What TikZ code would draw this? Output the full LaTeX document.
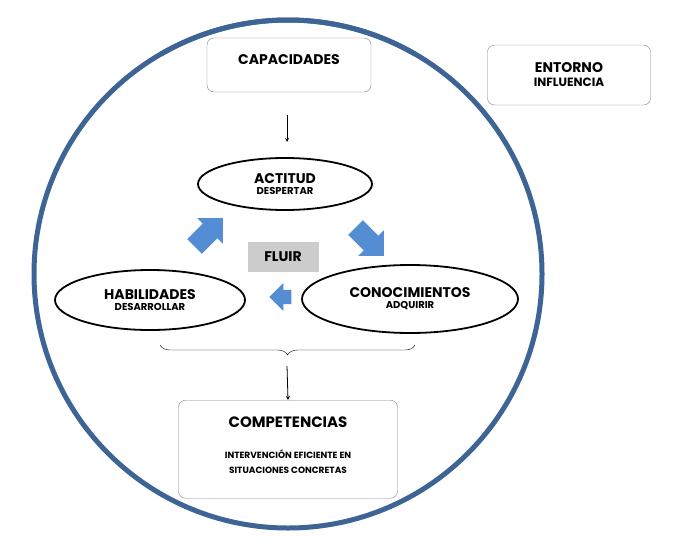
\documentclass[tikz,border=0pt]{standalone}
\usepackage{fontspec}
\setmainfont{Poppins}
\usetikzlibrary{shapes.arrows,shapes.geometric,decorations.pathreplacing}
\definecolor{ringblue}{RGB}{62,100,150}
\definecolor{flowblue}{RGB}{84,141,212}
\definecolor{boxgray}{RGB}{130,130,130}
\newcommand{\maintxt}[1]{{\fontsize{14}{16}\selectfont\bfseries #1}}
\newcommand{\subtxt}[1]{{\fontsize{10}{12}\selectfont\bfseries #1}}
\begin{document}
\begin{tikzpicture}[x=1pt,y=-1pt,
    box/.style={draw=boxgray,rounded corners=7pt,fill=white,align=center},
    oval/.style={ellipse,draw=black,line width=1.8pt,fill=white,align=center,inner sep=0pt},
    flow/.style={single arrow,fill=flowblue,draw=none,minimum height=40pt,minimum width=36pt,
        single arrow head extend=6pt,inner sep=8pt,single arrow tip angle=90},
    down/.style={->,>=stealth,thick}]
    \useasboundingbox (0,0) rectangle (682,546);
    \draw[ringblue,line width=5pt] (288,274) circle (254);
    % top
    \node[box,minimum width=164pt,minimum height=54pt] (capacidades) at (289,65) {\raisebox{10pt}{\maintxt{CAPACIDADES}}};
    \node[box,minimum width=163pt,minimum height=60pt] (entorno) at (569,75) {\maintxt{ENTORNO}\\[2pt]{\fontsize{12}{14}\selectfont\bfseries INFLUENCIA}};
    \coordinate (capend) at (287,115);
    \node[oval,minimum width=174pt,minimum height=52pt] (actitud) at (285,184) {\maintxt{ACTITUD}\\[-1pt]\subtxt{DESPERTAR}};
    \draw[down] (capend) -- (287,142);
    % cycle
    \node[oval,minimum width=190pt,minimum height=60pt] (habilidades) at (150,300) {\maintxt{HABILIDADES}\\[-1pt]\subtxt{DESARROLLAR}};
    \node[oval,minimum width=216pt,minimum height=68pt] (conocimientos) at (410,299) {\maintxt{CONOCIMIENTOS}\\[-1pt]\subtxt{ADQUIRIR}};
    \node[fill=gray!40,minimum width=71pt,minimum height=30pt] (fluir) at (283,257) {\maintxt{FLUIR}};
    \node[flow,rotate=45] (up) at (205,236) {};
    \node[flow,rotate=-45] (right) at (366,238) {};
    \node[flow,rotate=180,minimum height=22pt,minimum width=28pt,inner sep=6pt] (left) at (284,297) {};
    % bottom
    \draw[decorate,decoration={brace,amplitude=10pt,mirror}] (160,345) -- (415,345);
    \coordinate (bracetip) at (287,366);
    \node[box,minimum width=219pt,minimum height=98pt,anchor=north] (competencias) at (288,400) {};
    \node (comptitle) at (288,422) {\maintxt{\fontsize{15}{17}\selectfont COMPETENCIAS}};
    \node[align=center,font=\fontsize{9}{15}\selectfont\bfseries] (comptext) at (288,462) {INTERVENCIÓN EFICIENTE EN\\SITUACIONES CONCRETAS};
    \draw[down] (bracetip) -- (competencias.north);
    \draw[ringblue,line width=5pt] (288,274) ++(-60:254) arc (-60:-120:254);
\end{tikzpicture}
\end{document}
